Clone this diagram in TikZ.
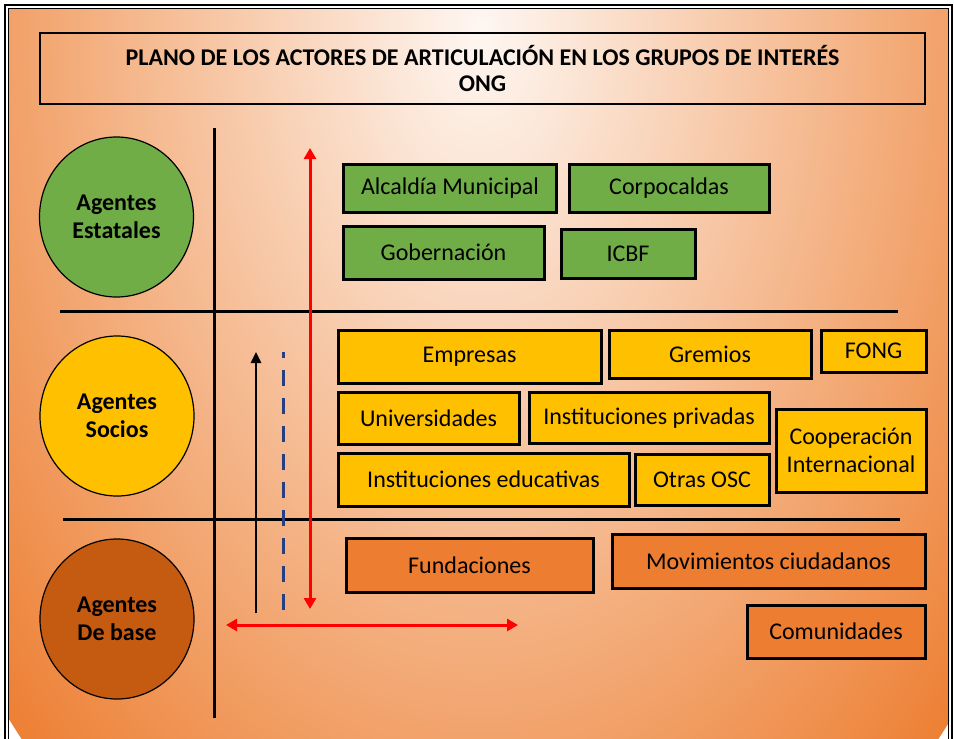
\documentclass[tikz,border=0pt]{standalone}
\usepackage{fontspec}
\setmainfont{Carlito}
\usetikzlibrary{arrows.meta,shapes.geometric}
\definecolor{verde}{RGB}{112,173,71}
\definecolor{amarillo}{RGB}{255,192,0}
\definecolor{naranja}{RGB}{237,125,49}
\definecolor{cafe}{RGB}{197,90,17}
\definecolor{azul}{RGB}{38,62,130}
\definecolor{fondoin}{RGB}{254,247,242}
\definecolor{fondoout}{RGB}{237,128,52}

\begin{document}
\begin{tikzpicture}[x=1pt,y=-1pt,
    font=\fontsize{24}{28}\selectfont,
    actor/.style={draw=black,line width=3pt,fill=#1,align=center,inner sep=0pt},
    agente/.style={ellipse,draw=black,line width=1.2pt,fill=#1,minimum width=154pt,minimum height=160pt,align=center,inner sep=0pt,font=\fontsize{24}{28}\selectfont\bfseries},
    eje/.style={line width=3pt},
    flecha/.style={red,line width=3pt,{Triangle[length=11pt,width=12pt]}-{Triangle[length=11pt,width=12pt]}}]
    \useasboundingbox (0,0) rectangle (954,739);
    \fill[white] (0,0) rectangle (954,739);
    \begin{scope}
        \clip (8,8) rectangle (949,739);
        \shade[inner color=fondoin,outer color=fondoout] (480,30) ellipse [x radius=650pt,y radius=1000pt];
    \end{scope}
    \draw[line width=1.2pt] (5,739) -- (5,5) -- (952,5) -- (952,739);
    \draw[line width=1.2pt] (8.5,739) -- (8.5,8.5) -- (948.5,8.5) -- (948.5,739);

    \node[draw,line width=2pt,minimum width=885pt,minimum height=71pt,align=center,font=\fontsize{24}{26}\selectfont\bfseries] (titulo) at (482.5,68.5) {PLANO DE LOS ACTORES DE ARTICULACIÓN EN LOS GRUPOS DE INTERÉS\\ONG};

    \draw[eje] (214,128) -- (214,718);
    \draw[eje] (60,311) -- (898,311);
    \draw[eje] (63,519) -- (900,519);

    \node[agente=verde] (estatales) at (116.5,217) {Agentes\\Estatales};
    \node[agente=amarillo] (socios) at (117,416) {Agentes\\Socios};
    \node[agente=cafe] (base) at (117,619) {Agentes\\De base};

    \coordinate (rojoarriba) at (310,148);
    \coordinate (rojoabajo) at (310,609);
    \coordinate (rojoizq) at (226,625);
    \coordinate (rojoder) at (518,625);
    \coordinate (negroini) at (256,613);
    \coordinate (negrofin) at (256,352);
    \coordinate (azulini) at (283,352);
    \coordinate (azulfin) at (283,613);
    \draw[flecha] (rojoarriba) -- (rojoabajo);
    \draw[flecha] (rojoizq) -- (rojoder);
    \draw[line width=2.5pt,-{Triangle[length=11pt,width=10pt]}] (negroini) -- (negrofin);
    \draw[azul,line width=3pt,dash pattern=on 16pt off 12pt,dash phase=10pt] (azulini) -- (azulfin);

    \node[actor=verde,minimum width=213pt,minimum height=48pt] (alcaldia) at (450,188) {Alcaldía Municipal};
    \node[actor=verde,minimum width=200pt,minimum height=48pt] (corpocaldas) at (669,188) {Corpocaldas};
    \node[actor=verde,minimum width=201pt,minimum height=53pt] (gobernacion) at (443.5,252.5) {Gobernación};
    \node[actor=verde,minimum width=134pt,minimum height=49pt] (icbf) at (628,253.5) {ICBF};

    \node[actor=amarillo,minimum width=263pt,minimum height=53pt] (empresas) at (469.5,356.5) {Empresas};
    \node[actor=amarillo,minimum width=202pt,minimum height=48pt] (gremios) at (710,354) {Gremios};
    \node[actor=amarillo,minimum width=105pt,minimum height=42pt] (fong) at (873.5,351) {FONG};
    \node[actor=amarillo,minimum width=181pt,minimum height=52pt] (universidades) at (428.5,418) {Universidades};
    \node[actor=amarillo,minimum width=240pt,minimum height=51pt] (privadas) at (649,418) {Instituciones privadas};
    \node[actor=amarillo,minimum width=150pt,minimum height=83pt] (cooperacion) at (851,450.5) {Cooperación\\Internacional};
    \node[actor=amarillo,minimum width=291pt,minimum height=53pt] (educativas) at (483.5,479.5) {Instituciones educativas};
    \node[actor=amarillo,minimum width=134pt,minimum height=51pt] (otras) at (702,480) {Otras OSC};

    \node[actor=naranja,minimum width=247pt,minimum height=54pt] (fundaciones) at (469.5,565) {Fundaciones};
    \node[actor=naranja,minimum width=313pt,minimum height=54pt] (movimientos) at (768.5,561) {Movimientos ciudadanos};
    \node[actor=naranja,minimum width=178pt,minimum height=53pt] (comunidades) at (836,631.5) {Comunidades};
\end{tikzpicture}
\end{document}
